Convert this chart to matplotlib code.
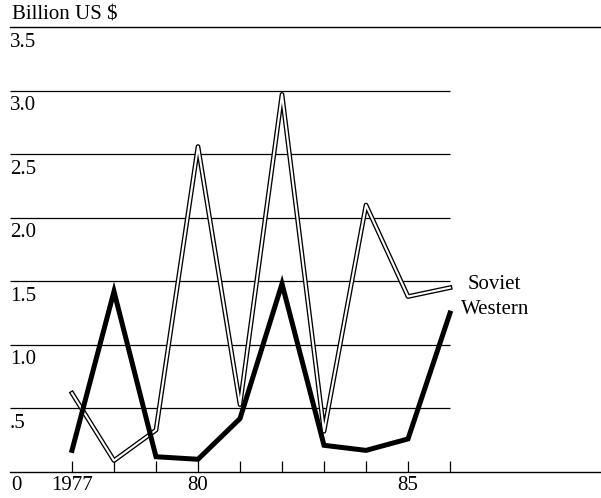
import matplotlib
matplotlib.use("Agg")
import matplotlib.pyplot as plt
from matplotlib.transforms import offset_copy

years = [1977, 1978, 1979, 1980, 1981, 1982, 1983, 1984, 1985, 1986]
soviet = [0.62, 0.09, 0.33, 2.56, 0.53, 2.97, 0.32, 2.10, 1.38, 1.45]
western = [0.17, 1.42, 0.12, 0.10, 0.42, 1.48, 0.21, 0.17, 0.26, 1.25]
grid_values = [0.5, 1.0, 1.5, 2.0, 2.5, 3.0]
ytick_labels = [".5", "1.0", "1.5", "2.0", "2.5", "3.0", "3.5"]
ytick_values = [0.5, 1.0, 1.5, 2.0, 2.5, 3.0, 3.5]
xtick_labels = ["1977", "", "", "80", "", "", "", "", "85", ""]

plt.rcParams['font.family'] = ['Liberation Serif', 'DejaVu Serif']
FS = 15

W, H = 601, 498
fig = plt.figure(figsize=(W / 100, H / 100), dpi=100)
ax = fig.add_axes([10 / W, 26 / H, 591 / W, 445 / H])
xmin, xmax = 1975.524, 1989.595
ax.set_xlim(xmin, xmax)
ax.set_ylim(0, 3.5)

# grid lines
ax.hlines(grid_values, xmin, years[-1], colors='black', linewidth=0.9, zorder=1)

for s in ['left', 'right']:
    ax.spines[s].set_visible(False)
for s in ['top', 'bottom']:
    ax.spines[s].set_linewidth(1.0)

ax.set_yticks([])
ax.set_xticks(years)
ax.set_xticklabels(xtick_labels, fontsize=FS)
ax.tick_params(axis='x', direction='in', length=8, width=0.9, pad=3)

# y labels below lines
tr = offset_copy(ax.transData, fig=fig, x=0, y=-4, units='points')
for v, lab in zip(ytick_values, ytick_labels):
    ax.text(xmin, v, lab, transform=tr, ha='left', va='top', fontsize=FS)
ax.text(xmin + 0.02, 0, "0", transform=offset_copy(ax.transData, fig=fig, x=0, y=-3, units='points'),
        ha='left', va='top', fontsize=FS)
ax.text(xmin + 0.05, 3.5, "Billion US $", transform=offset_copy(ax.transData, fig=fig, x=0, y=2, units='points'),
        ha='left', va='bottom', fontsize=FS, clip_on=False)

# Soviet: double line
ax.plot(years, soviet, color='black', linewidth=3.4, solid_joinstyle='round', zorder=3)
ax.plot(years, soviet, color='white', linewidth=1.5, solid_joinstyle='round', zorder=4)
# Western: thick black
ax.plot(years, western, color='black', linewidth=3.6, solid_joinstyle='miter', zorder=5)

ax.annotate("Soviet", xy=(years[-1], soviet[-1]), xytext=(13, 2), textcoords='offset points',
            ha='left', va='center', fontsize=FS)
ax.annotate("Western", xy=(years[-1], soviet[-1]), xytext=(8, -16), textcoords='offset points',
            ha='left', va='center', fontsize=FS)

fig.savefig("out.png", dpi=100)
